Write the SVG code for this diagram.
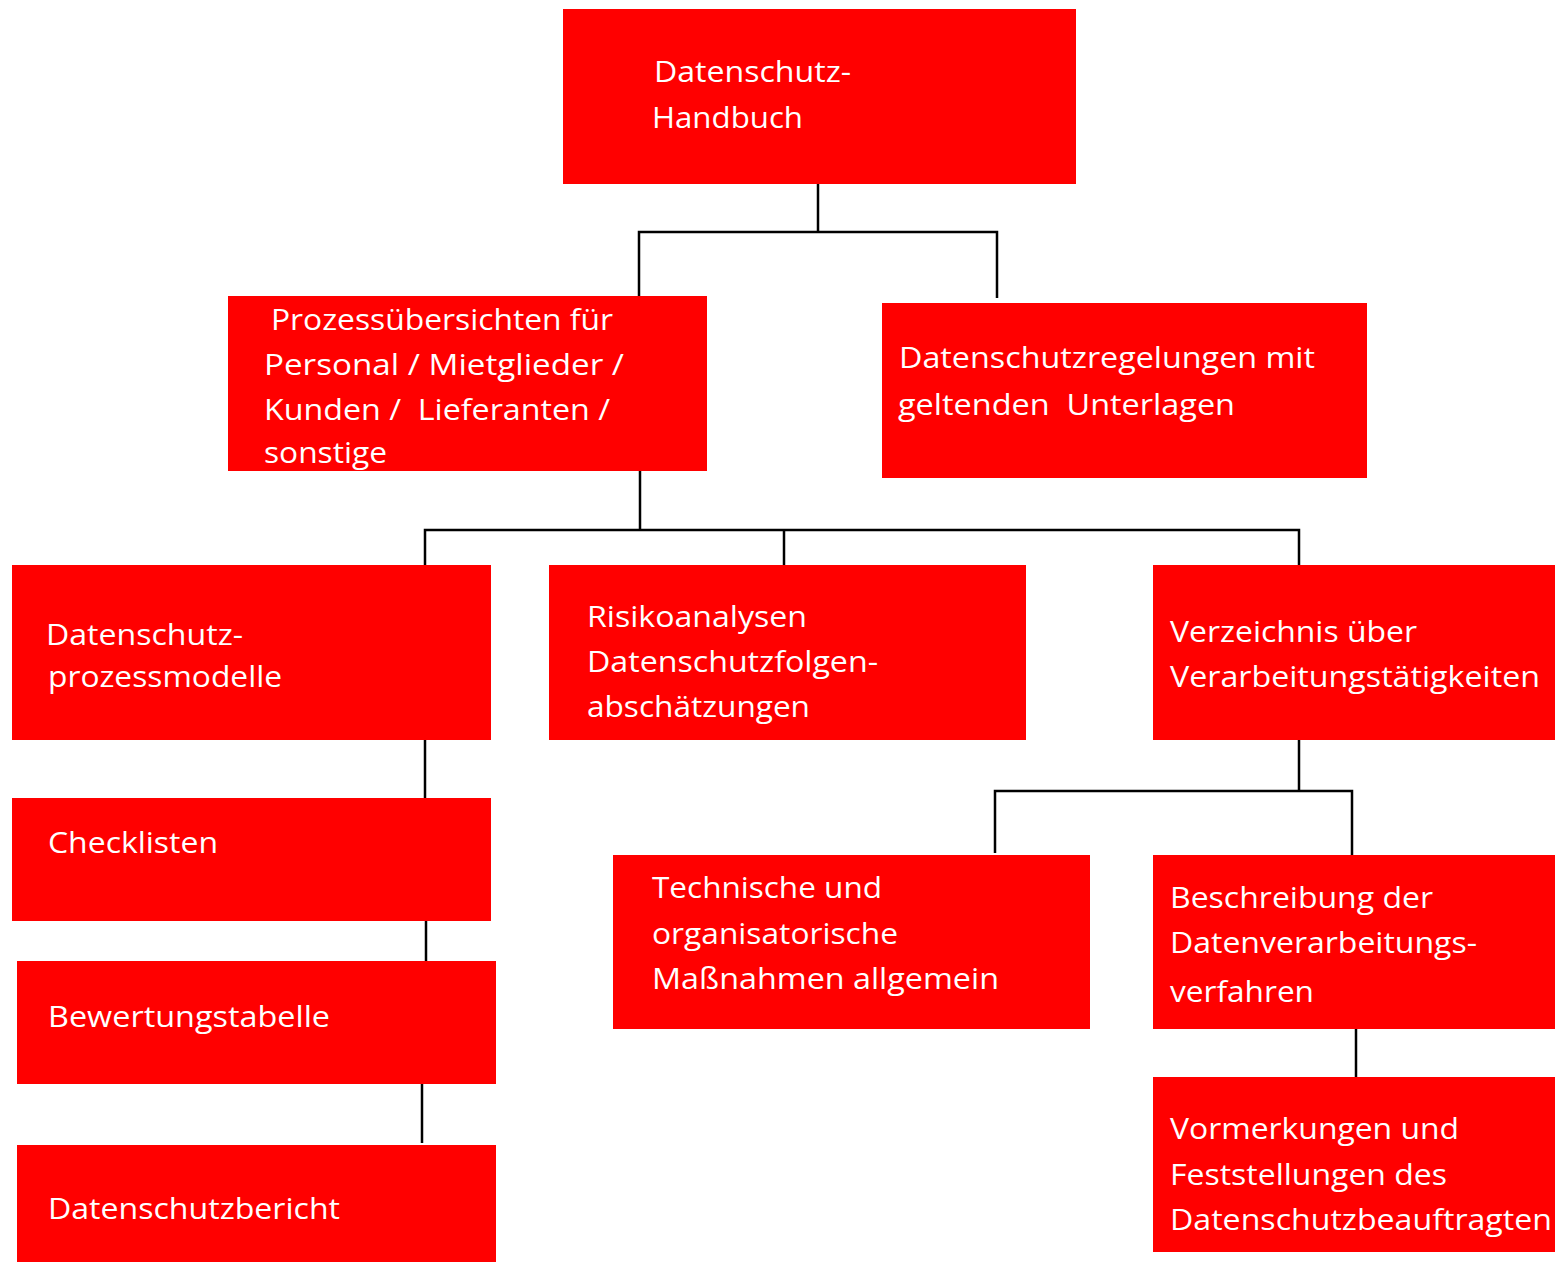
<svg xmlns="http://www.w3.org/2000/svg" width="1555" height="1262" viewBox="0 0 1555 1262">
<style>
.box{fill:#FF0000;}
.t{fill:#FFFFFF;font-family:"Open Sans","Noto Sans","DejaVu Sans",sans-serif;font-size:30px;}
.c{fill:none;stroke:#000000;stroke-width:2.5;}
</style>
<rect width="1555" height="1262" fill="#FFFFFF"/>
<g id="connectors">
<path class="c" d="M818,184 V232"/>
<path class="c" d="M639,296 V232 H997 V298"/>
<path class="c" d="M640,471 V530"/>
<path class="c" d="M425,565 V530 H1299 V565"/>
<path class="c" d="M784,530 V565"/>
<path class="c" d="M1299,740 V791"/>
<path class="c" d="M995,853 V791 H1352 V855"/>
<path class="c" d="M425,740 V798"/>
<path class="c" d="M426,921 V961"/>
<path class="c" d="M422,1084 V1143"/>
<path class="c" d="M1356,1029 V1077"/>
</g>
<g id="n-handbuch">
<rect class="box" x="563" y="9" width="513" height="175"/>
<text class="t" x="654" y="82" textLength="197" lengthAdjust="spacingAndGlyphs">Datenschutz-</text>
<text class="t" x="652" y="128" textLength="151" lengthAdjust="spacingAndGlyphs">Handbuch</text>
</g>
<g id="n-prozess">
<rect class="box" x="228" y="296" width="479" height="175"/>
<text class="t" x="271" y="330" textLength="342" lengthAdjust="spacingAndGlyphs">Prozessübersichten für</text>
<text class="t" x="264" y="375" textLength="360" lengthAdjust="spacingAndGlyphs">Personal / Mietglieder /</text>
<text class="t" x="264" y="420" textLength="346" lengthAdjust="spacingAndGlyphs" xml:space="preserve">Kunden /  Lieferanten /</text>
<text class="t" x="264" y="463" textLength="123" lengthAdjust="spacingAndGlyphs">sonstige</text>
</g>
<g id="n-regelungen">
<rect class="box" x="882" y="303" width="485" height="175"/>
<text class="t" x="899" y="368" textLength="416" lengthAdjust="spacingAndGlyphs">Datenschutzregelungen mit</text>
<text class="t" x="898" y="415" textLength="337" lengthAdjust="spacingAndGlyphs" xml:space="preserve">geltenden  Unterlagen</text>
</g>
<g id="n-prozessmodelle">
<rect class="box" x="12" y="565" width="479" height="175"/>
<text class="t" x="46" y="645" textLength="197" lengthAdjust="spacingAndGlyphs">Datenschutz-</text>
<text class="t" x="48" y="687" textLength="234" lengthAdjust="spacingAndGlyphs">prozessmodelle</text>
</g>
<g id="n-risiko">
<rect class="box" x="549" y="565" width="477" height="175"/>
<text class="t" x="587" y="627" textLength="220" lengthAdjust="spacingAndGlyphs">Risikoanalysen</text>
<text class="t" x="587" y="672" textLength="291" lengthAdjust="spacingAndGlyphs">Datenschutzfolgen-</text>
<text class="t" x="587" y="717" textLength="223" lengthAdjust="spacingAndGlyphs">abschätzungen</text>
</g>
<g id="n-verzeichnis">
<rect class="box" x="1153" y="565" width="402" height="175"/>
<text class="t" x="1170" y="642" textLength="247" lengthAdjust="spacingAndGlyphs">Verzeichnis über</text>
<text class="t" x="1170" y="687" textLength="370" lengthAdjust="spacingAndGlyphs">Verarbeitungstätigkeiten</text>
</g>
<g id="n-checklisten">
<rect class="box" x="12" y="798" width="479" height="123"/>
<text class="t" x="48" y="853" textLength="170" lengthAdjust="spacingAndGlyphs">Checklisten</text>
</g>
<g id="n-bewertung">
<rect class="box" x="17" y="961" width="479" height="123"/>
<text class="t" x="48" y="1027" textLength="282" lengthAdjust="spacingAndGlyphs">Bewertungstabelle</text>
</g>
<g id="n-bericht">
<rect class="box" x="17" y="1145" width="479" height="117"/>
<text class="t" x="48" y="1219" textLength="292" lengthAdjust="spacingAndGlyphs">Datenschutzbericht</text>
</g>
<g id="n-technische">
<rect class="box" x="613" y="855" width="477" height="174"/>
<text class="t" x="652" y="898" textLength="230" lengthAdjust="spacingAndGlyphs">Technische und</text>
<text class="t" x="652" y="944" textLength="246" lengthAdjust="spacingAndGlyphs">organisatorische</text>
<text class="t" x="652" y="989" textLength="347" lengthAdjust="spacingAndGlyphs">Maßnahmen allgemein</text>
</g>
<g id="n-beschreibung">
<rect class="box" x="1153" y="855" width="402" height="174"/>
<text class="t" x="1170" y="908" textLength="263" lengthAdjust="spacingAndGlyphs">Beschreibung der</text>
<text class="t" x="1170" y="953" textLength="307" lengthAdjust="spacingAndGlyphs">Datenverarbeitungs-</text>
<text class="t" x="1170" y="1002" textLength="144" lengthAdjust="spacingAndGlyphs">verfahren</text>
</g>
<g id="n-vormerkungen">
<rect class="box" x="1153" y="1077" width="402" height="175"/>
<text class="t" x="1170" y="1139" textLength="289" lengthAdjust="spacingAndGlyphs">Vormerkungen und</text>
<text class="t" x="1170" y="1185" textLength="277" lengthAdjust="spacingAndGlyphs">Feststellungen des</text>
<text class="t" x="1170" y="1230" textLength="382" lengthAdjust="spacingAndGlyphs">Datenschutzbeauftragten</text>
</g>
</svg>
